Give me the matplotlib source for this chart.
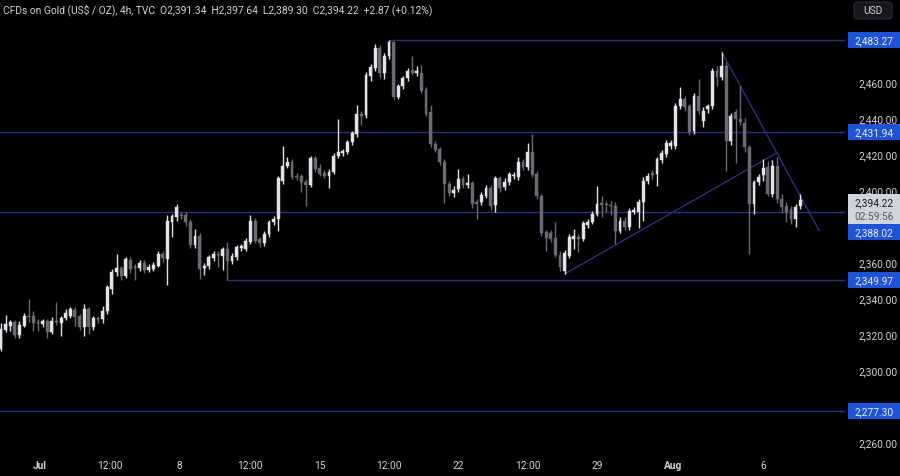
import matplotlib
matplotlib.use("Agg")
import matplotlib.pyplot as plt
from matplotlib.patches import Rectangle, FancyBboxPatch

plt.rcParams['font.family'] = ['Roboto', 'DejaVu Sans']

# ---------------- data (4h candles, CFDs on Gold) ----------------
opens = [2311.7, 2322.4, 2324.6, 2326.5, 2319.4, 2324.6, 2330.2, 2329.8, 2326.5, 2325.6,
         2327.4, 2321.3, 2327.0, 2326.1, 2328.7, 2330.2, 2333.5, 2330.2, 2323.7, 2333.9,
         2324.0, 2328.7, 2328.3, 2332.6, 2345.0, 2354.3, 2356.5, 2352.1, 2361.3, 2357.6,
         2356.9, 2359.4, 2355.7, 2356.1, 2358.0, 2364.4, 2361.7, 2382.4, 2384.8, 2386.1,
         2386.1, 2382.0, 2369.4, 2374.6, 2356.5, 2357.6, 2362.0, 2364.4, 2363.5, 2367.2,
         2360.7, 2362.6, 2367.6, 2367.2, 2371.3, 2383.0, 2372.8, 2370.6, 2375.5, 2382.0,
         2383.9, 2405.2, 2413.5, 2415.4, 2408.0, 2407.6, 2404.6, 2402.8, 2417.6, 2412.0,
         2409.4, 2407.6, 2410.2, 2418.7, 2420.5, 2421.3, 2426.5, 2431.1, 2442.2, 2441.6,
         2463.5, 2467.6, 2478.7, 2465.0, 2474.3, 2482.4, 2451.5, 2457.6, 2462.0, 2466.8,
         2465.2, 2465.0, 2455.7, 2443.5, 2425.6, 2422.8, 2415.4, 2403.3, 2398.3, 2400.6,
         2406.1, 2402.8, 2403.9, 2393.5, 2393.1, 2396.9, 2400.9, 2391.7, 2406.5, 2401.5,
         2404.3, 2407.6, 2407.0, 2415.4, 2412.6, 2421.3, 2408.9, 2396.8, 2376.5, 2376.0,
         2373.1, 2364.0, 2355.0, 2363.5, 2373.0, 2373.7, 2372.8, 2380.5, 2382.4, 2386.7,
         2392.6, 2392.2, 2391.7, 2391.3, 2377.4, 2383.0, 2379.3, 2388.0, 2388.0, 2393.5,
         2405.2, 2409.4, 2408.9, 2416.8, 2420.0, 2424.6, 2424.6, 2446.9, 2450.6, 2446.5,
         2433.0, 2452.4, 2438.5, 2445.0, 2446.5, 2466.3, 2462.6, 2469.1, 2427.4, 2443.1,
         2439.4, 2437.2, 2423.7, 2392.2, 2404.2, 2408.3, 2412.6, 2397.8, 2413.2, 2395.0,
         2391.3, 2389.4, 2383.9, 2391.34]
highs = [2326.0, 2330.5, 2328.0, 2328.0, 2327.0, 2331.5, 2339.4, 2333.0, 2328.3, 2328.5,
         2328.5, 2329.3, 2338.0, 2330.0, 2333.9, 2335.0, 2335.0, 2331.0, 2336.7, 2335.0,
         2330.0, 2330.0, 2335.7, 2347.0, 2356.0, 2364.4, 2358.0, 2363.0, 2363.0, 2359.0,
         2361.0, 2361.0, 2359.0, 2360.0, 2366.0, 2366.0, 2386.0, 2386.5, 2392.2, 2388.0,
         2387.5, 2383.9, 2378.3, 2376.0, 2359.5, 2364.0, 2366.0, 2366.0, 2368.5, 2370.9,
         2365.0, 2369.5, 2370.0, 2373.5, 2386.1, 2384.5, 2374.0, 2377.0, 2383.5, 2385.5,
         2408.0, 2424.6, 2418.1, 2417.0, 2409.5, 2409.0, 2406.0, 2419.0, 2419.0, 2414.4,
         2411.0, 2411.5, 2420.5, 2439.4, 2423.0, 2428.0, 2433.0, 2447.2, 2444.0, 2465.5,
         2470.0, 2481.1, 2480.5, 2476.0, 2483.27, 2483.0, 2459.0, 2463.5, 2468.0, 2474.3,
         2469.0, 2469.4, 2457.0, 2447.2, 2427.0, 2424.0, 2417.0, 2405.0, 2402.0, 2411.7,
         2408.0, 2409.0, 2405.0, 2395.0, 2399.0, 2403.0, 2402.5, 2408.0, 2408.0, 2406.5,
         2410.0, 2410.0, 2418.1, 2417.0, 2426.1, 2431.1, 2410.5, 2398.0, 2378.0, 2378.0,
         2382.0, 2366.0, 2366.5, 2375.5, 2378.3, 2375.5, 2383.0, 2384.0, 2388.5, 2402.4,
         2396.5, 2394.0, 2394.0, 2393.5, 2385.0, 2385.0, 2390.0, 2390.5, 2395.0, 2407.0,
         2409.5, 2411.0, 2418.5, 2422.0, 2427.5, 2427.5, 2448.5, 2457.0, 2452.0, 2448.0,
         2454.0, 2461.7, 2446.0, 2447.5, 2468.0, 2469.0, 2476.8, 2471.0, 2443.0, 2445.0,
         2458.0, 2440.0, 2425.0, 2405.5, 2409.0, 2417.2, 2416.0, 2416.5, 2418.5, 2397.5,
         2393.5, 2391.0, 2392.0, 2397.64]
lows = [2310.5, 2321.0, 2321.9, 2318.0, 2318.0, 2324.0, 2326.5, 2321.9, 2321.9, 2324.0,
        2317.6, 2320.0, 2325.0, 2318.7, 2328.0, 2329.0, 2324.6, 2322.0, 2318.7, 2320.0,
        2322.0, 2326.0, 2326.0, 2331.0, 2342.2, 2352.0, 2350.0, 2351.0, 2354.0, 2350.2,
        2355.0, 2354.0, 2354.2, 2355.0, 2357.0, 2360.0, 2347.2, 2373.7, 2383.0, 2384.0,
        2380.0, 2368.0, 2368.0, 2350.6, 2353.0, 2356.0, 2360.5, 2357.0, 2355.7, 2349.97,
        2359.0, 2361.0, 2366.0, 2366.0, 2370.0, 2370.5, 2368.5, 2369.0, 2374.0, 2380.5,
        2377.4, 2403.5, 2412.0, 2406.1, 2405.5, 2399.1, 2391.3, 2401.5, 2410.0, 2407.5,
        2406.5, 2400.9, 2409.0, 2417.5, 2419.0, 2420.0, 2425.0, 2429.5, 2436.0, 2440.0,
        2460.5, 2466.0, 2462.0, 2461.5, 2473.0, 2450.0, 2450.5, 2456.0, 2460.5, 2464.0,
        2463.5, 2454.0, 2441.0, 2424.0, 2421.0, 2414.0, 2393.0, 2396.5, 2396.0, 2399.0,
        2401.0, 2401.0, 2390.0, 2383.9, 2391.5, 2395.5, 2389.0, 2387.6, 2399.0, 2400.0,
        2403.0, 2406.0, 2405.5, 2411.0, 2411.0, 2407.0, 2395.0, 2374.5, 2366.3, 2371.0,
        2362.5, 2355.0, 2353.3, 2362.0, 2367.2, 2365.4, 2371.5, 2379.0, 2381.0, 2385.5,
        2385.0, 2388.0, 2386.0, 2370.0, 2376.0, 2377.5, 2378.0, 2386.5, 2379.0, 2383.0,
        2403.5, 2406.0, 2402.0, 2415.0, 2418.5, 2423.0, 2423.0, 2445.0, 2444.0, 2430.5,
        2431.0, 2442.0, 2435.0, 2443.0, 2445.0, 2458.0, 2461.0, 2410.7, 2425.0, 2415.0,
        2436.0, 2421.0, 2364.4, 2386.7, 2403.0, 2405.0, 2396.5, 2396.0, 2393.0, 2387.0,
        2382.0, 2381.0, 2379.3, 2389.30]
closes = [2322.8, 2325.5, 2326.5, 2319.4, 2325.0, 2330.2, 2329.6, 2326.1, 2325.6, 2327.4,
          2321.3, 2327.4, 2326.4, 2328.7, 2331.5, 2333.9, 2329.3, 2323.7, 2333.9, 2323.7,
          2328.7, 2328.0, 2332.6, 2345.9, 2354.6, 2356.5, 2352.4, 2361.7, 2356.1, 2356.5,
          2359.4, 2355.7, 2357.3, 2358.3, 2364.4, 2362.0, 2383.0, 2385.4, 2390.4, 2385.4,
          2382.0, 2369.4, 2374.6, 2356.1, 2358.0, 2362.6, 2364.4, 2363.9, 2367.2, 2360.7,
          2363.5, 2368.1, 2368.7, 2371.9, 2383.0, 2371.9, 2370.6, 2375.5, 2382.0, 2383.9,
          2406.5, 2413.5, 2415.7, 2407.0, 2407.0, 2404.3, 2402.8, 2417.6, 2411.7, 2408.9,
          2408.0, 2410.2, 2419.1, 2420.9, 2421.7, 2426.5, 2431.7, 2442.2, 2441.0, 2463.9,
          2468.1, 2478.7, 2465.0, 2474.6, 2482.4, 2451.5, 2457.6, 2462.0, 2466.3, 2465.0,
          2465.9, 2455.2, 2442.2, 2425.6, 2422.4, 2415.4, 2403.3, 2398.3, 2400.2, 2406.1,
          2402.8, 2403.9, 2392.2, 2392.2, 2397.2, 2400.9, 2391.3, 2406.5, 2400.9, 2404.6,
          2408.9, 2408.3, 2415.7, 2412.6, 2421.3, 2408.3, 2396.8, 2376.1, 2373.1, 2372.8,
          2363.9, 2357.0, 2365.0, 2373.7, 2374.6, 2372.8, 2381.7, 2382.4, 2386.7, 2392.2,
          2391.7, 2391.7, 2391.3, 2377.4, 2383.0, 2379.3, 2388.5, 2388.9, 2393.5, 2405.2,
          2408.0, 2408.3, 2417.2, 2420.4, 2425.9, 2425.9, 2446.9, 2450.6, 2446.0, 2432.0,
          2452.4, 2444.1, 2444.1, 2446.5, 2466.3, 2462.6, 2469.1, 2427.4, 2441.3, 2439.4,
          2437.6, 2423.7, 2392.2, 2404.6, 2407.0, 2412.0, 2397.8, 2413.2, 2395.0, 2390.4,
          2387.6, 2383.9, 2390.4, 2394.22]

# horizontal levels: (price, first bar index where the line starts)
level_prices = [2483.27, 2431.94, 2388.02, 2349.97, 2277.30]
level_start_bar = [84, -5, -5, 49, -5]

# trend lines: (bar, price) pairs
trend_up = [(122.0, 2353.3), (167.9, 2420.6)]
trend_down = [(156.0, 2476.8), (177.1, 2377.4)]

# time axis
time_labels = ['Jul', '12:00', '8', '12:00', '15', '12:00', '22', '12:00', '29', 'Aug', '6']
time_label_bars = [8.4, 23.6, 38.7, 53.9, 69.0, 84.0, 98.9, 114.1, 129.0, 145.5, 164.9]
bold_labels = ['Jul', 'Aug']

price_ticks = [2260, 2300, 2320, 2340, 2360, 2400, 2420, 2440, 2460]

title = ("CFDs on Gold (US$ / OZ), 4h, TVC  O2,391.34  H2,397.64  L2,389.30  "
         "C2,394.22  +2.87 (+0.12%)")
last_price = 2394.22
countdown = "02:59:56"

# ---------------- styling ----------------
BG = '#000000'
TXT = '#d1d4dc'
UP = '#e2e3e8'
DN = '#686b74'
LINE = '#2b3080'
LABEL_BG = '#1f53d6'

W, H = 900, 477
fig = plt.figure(figsize=(W / 100, H / 100), dpi=100, facecolor=BG)
ax = fig.add_axes([0, 24 / H, 845 / W, 453 / H])
ax.set_facecolor(BG)
ax.set_xlim(-0.22, 182.7)
ax.set_ylim(2254.4, 2506.1)
for s in ax.spines.values():
    s.set_visible(False)

# candles
n = len(closes)
for i in range(n):
    o, h, l, c = opens[i], highs[i], lows[i], closes[i]
    col = UP if c >= o else DN
    ax.vlines(i, l, h, color=col, lw=1.0, zorder=3)
    bot = min(o, c)
    ht = max(abs(c - o), 0.6)
    ax.bar(i, ht, bottom=bot, width=0.62, color=col, edgecolor=col, lw=0.3, zorder=4)

# levels
for p, sb in zip(level_prices, level_start_bar):
    ax.plot([sb, 200], [p, p], color=LINE, lw=1.0, zorder=2, solid_capstyle='butt')

# trend lines
for tl in (trend_up, trend_down):
    ax.plot([tl[0][0], tl[1][0]], [tl[0][1], tl[1][1]], color=LINE, lw=1.0, zorder=2)

# axes ticks
ax.yaxis.tick_right()
ax.set_yticks(price_ticks)
ax.set_yticklabels([f"{v:,.2f}" for v in price_ticks])
ax.tick_params(axis='y', length=0, pad=9.5, labelsize=7.3, labelcolor=TXT)
ax.set_xticks(time_label_bars)
ax.set_xticklabels(time_labels)
ax.tick_params(axis='x', length=0, pad=6, labelsize=7.3, labelcolor=TXT)
for lab in ax.get_xticklabels():
    if lab.get_text() in bold_labels:
        lab.set_fontweight('bold')


def price_to_fig_y(p):
    return ax.transData.transform((0, p))[1] / H


box_h = 16 / H
box_x0 = 848 / W
box_w = 52 / W

# current price box
cp_top = price_to_fig_y(last_price) + 6 / H
cp_h = 30 / H
fig.patches.append(Rectangle((box_x0, cp_top - cp_h), box_w, cp_h, transform=fig.transFigure,
                             facecolor='#d1d4dc', edgecolor='none', zorder=5))
fig.text(box_x0 + box_w / 2, cp_top - 8 / H, f"{last_price:,.2f}", ha='center', va='center',
         fontsize=7.3, color='#131722', zorder=6)
fig.text(box_x0 + box_w / 2, cp_top - 22 / H, countdown, ha='center', va='center',
         fontsize=7.3, color='#50535e', zorder=6)

for p in level_prices:
    yc = price_to_fig_y(p)
    if (cp_top - cp_h) - box_h / 2 < yc < cp_top + box_h / 2:
        yc = cp_top - cp_h - box_h / 2
    fig.patches.append(Rectangle((box_x0, yc - box_h / 2), box_w, box_h, transform=fig.transFigure,
                                 facecolor=LABEL_BG, edgecolor='none', zorder=5))
    fig.text(box_x0 + box_w / 2, yc, f"{p:,.2f}", ha='center', va='center',
             fontsize=7.3, color='#e8ecff', zorder=6)

# USD box
fig.patches.append(FancyBboxPatch((854 / W, 457 / H), 38 / W, 17 / H,
                                  boxstyle="round,pad=0,rounding_size=0.006",
                                  transform=fig.transFigure, facecolor='#16181d',
                                  edgecolor='#2a2e39', lw=0.8, zorder=5))
fig.text(873 / W, 465.5 / H, "USD", ha='center', va='center', fontsize=7.3, color=TXT, zorder=6)

# title
fig.text(3 / W, 467 / H, title, ha='left', va='center', fontsize=7.4, color=TXT, zorder=6)

fig.savefig('out.png', dpi=100, facecolor=BG)
